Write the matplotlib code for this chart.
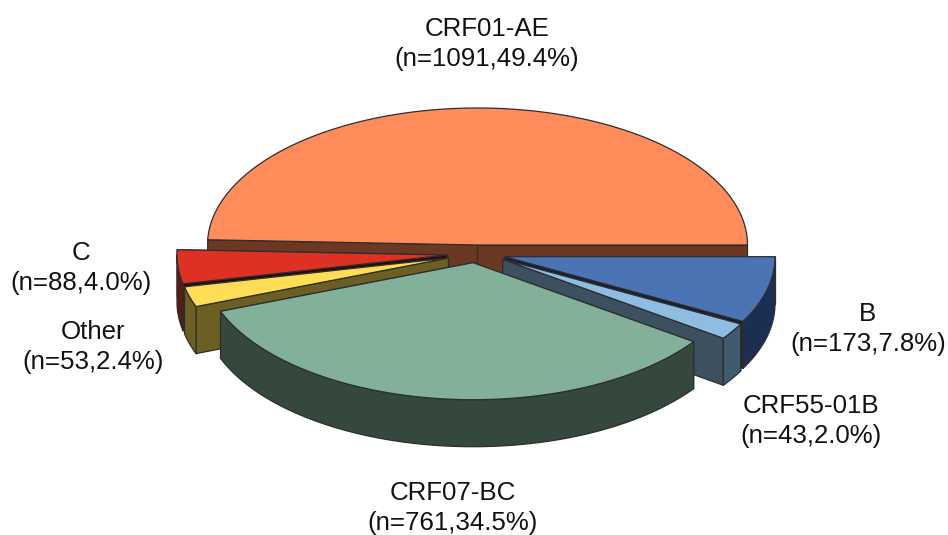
import numpy as np
import matplotlib
matplotlib.use("Agg")
import matplotlib.pyplot as plt
from matplotlib.patches import Polygon

# HIV subtype distribution
subtypes = ["CRF01-AE", "C", "Other", "CRF07-BC", "CRF55-01B", "B"]
counts = [1091, 88, 53, 761, 43, 173]
percents = ["49.4", "4.0", "2.4", "34.5", "2.0", "7.8"]

# Styling of each slice: top surface, cut face, outer rim
top_colors = ["#FF8C5A", "#DE3023", "#FFDD55", "#82B098", "#8DBDE3", "#4A74B4"]
cut_colors = ["#6B3823", "#2A0A05", "#6B5F24", "#34483D", "#3C5060", "#141F3A"]
rim_colors = ["#6B3823", "#5E1A0E", "#6B5F24", "#34483D", "#405A6E", "#1C2F52"]

# Apex of each exploded slice, in figure pixels
apex_x = [477.5, 447.0, 448.5, 473.0, 502.7, 505.0]
apex_y = [245.0, 255.0, 258.0, 262.7, 259.3, 256.7]
label_x = [487, 81, 93, 453, 811, 868]
label_y = [44, 268, 347, 508, 421, 329]

RX, RY, DEPTH = 270.0, 137.0, 47.0
EDGE = dict(edgecolor="#2e2e2e", linewidth=0.9, joinstyle="round")

plt.rcParams["font.family"] = ["Liberation Sans", "DejaVu Sans"]
fig = plt.figure(figsize=(9.48, 5.35), dpi=100)
ax = fig.add_axes([0, 0, 1, 1])
ax.set_xlim(0, 948)
ax.set_ylim(535, 0)
ax.axis("off")


def rim_point(cx, cy, deg):
    rad = np.radians(deg)
    return cx + RX * np.cos(rad), cy - RY * np.sin(rad)


def draw_slice(cx, cy, a1, a2, top, cut, rim):
    # Radial cut faces go first, the one nearer the viewer on top
    corners = sorted([a1, a2], key=lambda a: rim_point(cx, cy, a)[1])
    for a in corners:
        x, y = rim_point(cx, cy, a)
        ax.add_patch(Polygon([(cx, cy), (x, y), (x, y + DEPTH), (cx, cy + DEPTH)],
                             facecolor=cut, **EDGE))
    # Outer rim only shows on the front half of the ellipse
    lo, hi = max(a1, 180.0), min(a2, 360.0)
    if hi > lo:
        t = np.linspace(lo, hi, 120)
        xs, ys = rim_point(cx, cy, t)
        pts = np.vstack([np.column_stack([xs, ys]),
                         np.column_stack([xs, ys + DEPTH])[::-1]])
        ax.add_patch(Polygon(pts, facecolor=rim, **EDGE))
    # Top surface
    t = np.linspace(a1, a2, 240)
    xs, ys = rim_point(cx, cy, t)
    pts = np.vstack([[cx, cy], np.column_stack([xs, ys])])
    ax.add_patch(Polygon(pts, facecolor=top, **EDGE))


edges = np.concatenate([[0.0], np.cumsum(counts)]) / np.sum(counts) * 360.0

# Painter's order, back to front
for i in [0, 1, 2, 5, 4, 3]:
    draw_slice(apex_x[i], apex_y[i], edges[i], edges[i + 1],
               top_colors[i], cut_colors[i], rim_colors[i])

for name, n, pct, x, y in zip(subtypes, counts, percents, label_x, label_y):
    ax.text(x, y, f"{name}\n(n={n},{pct}%)", ha="center", va="center",
            fontsize=18.6, color="#111111", linespacing=1.3)

fig.savefig("out.png", dpi=100)
